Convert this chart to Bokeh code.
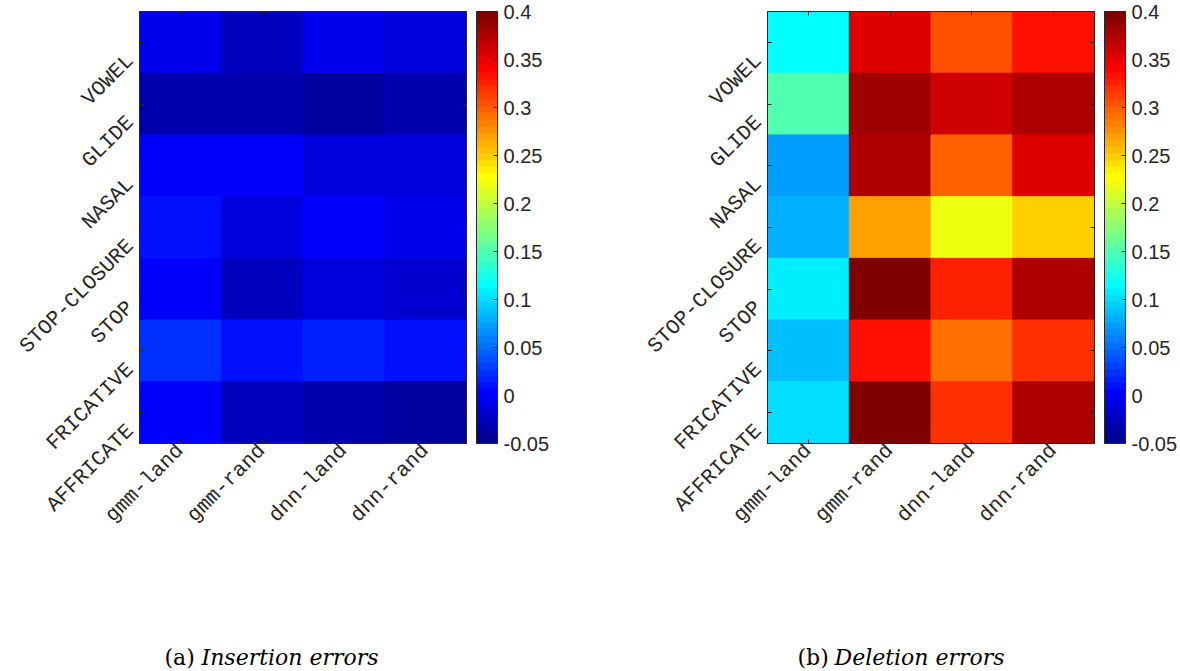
import numpy as np
from math import pi
from bokeh.plotting import figure
from bokeh.models import (ColumnDataSource, LinearColorMapper, ColorBar, FixedTicker,
                          CustomJSTickFormatter, CategoricalAxis, LinearAxis, FactorRange,
                          Range1d, CustomLabelingPolicy)
from bokeh.layouts import row, column
from bokeh.transform import transform
from bokeh.core.properties import value
from bokeh.embed import file_html
from bokeh.resources import INLINE

# ---------------- data ----------------
models = ["gmm-land", "gmm-rand", "dnn-land", "dnn-rand"]
classes = ["VOWEL", "GLIDE", "NASAL", "STOP-CLOSURE", "STOP", "FRICATIVE", "AFFRICATE"]

# insertion error differences (rows follow `classes`)
ins_gmm_land = [-0.006, -0.031, 0.002, 0.009, 0.001, 0.024, 0.001]
ins_gmm_rand = [-0.025, -0.030, 0.004, -0.012, -0.026, 0.011, -0.026]
ins_dnn_land = [-0.004, -0.038, -0.012, 0.002, -0.014, 0.017, -0.029]
ins_dnn_rand = [-0.010, -0.033, -0.013, -0.004, -0.018, 0.012, -0.036]

# deletion error differences
del_gmm_land = [0.115, 0.150, 0.073, 0.080, 0.108, 0.087, 0.101]
del_gmm_rand = [0.354, 0.382, 0.375, 0.270, 0.396, 0.333, 0.396]
del_dnn_land = [0.305, 0.361, 0.298, 0.221, 0.326, 0.291, 0.319]
del_dnn_rand = [0.333, 0.375, 0.354, 0.249, 0.375, 0.319, 0.375]

cbar_low, cbar_high = -0.05, 0.4
cbar_ticks = [-0.05, 0, 0.05, 0.1, 0.15, 0.2, 0.25, 0.3, 0.35, 0.4]

caption_tags = ["(a)", "(b)"]
caption_texts = ["Insertion errors", "Deletion errors"]


def jet(m=64):
    n = int(np.ceil(m / 4))
    u = np.concatenate([np.arange(1, n + 1) / n, np.ones(n - 1), np.arange(n, 0, -1) / n])
    g = int(np.ceil(n / 2)) - (1 if m % 4 == 1 else 0) + np.arange(1, len(u) + 1)
    r = g + n
    b = g - n
    J = np.zeros((m, 3))
    for idx, ch in ((r, 0), (g, 1), (b, 2)):
        mask = (idx >= 1) & (idx <= m)
        J[idx[mask] - 1, ch] = u[mask]
    return ["#%02x%02x%02x" % tuple(int(round(c * 255)) for c in rw) for rw in J]


JET = jet(64)
AX = "#262626"
TXT = "#262626"
FRAME_W, FRAME_H, TOP, MAIN_H, CAP_H = 327, 432, 11, 600, 71
NROW = len(classes)
ROW_POS = [NROW - 1 - i + 0.5 for i in range(NROW)]   # VOWEL on top
LABEL_SHIFT = 0.25  # rows; tick labels sit a bit below their ticks


def no_labels():
    return CustomLabelingPolicy(code="return []")


def heatmap(cols, mapper, left_border):
    xs, ys, vs = [], [], []
    for m, col in zip(models, cols):
        for yp, v in zip(ROW_POS, col):
            xs.append(m)
            ys.append(yp)
            vs.append(v)
    src = ColumnDataSource(dict(x=xs, y=ys, v=vs))

    p = figure(x_range=FactorRange(*models), y_range=Range1d(0, NROW),
               frame_width=FRAME_W, frame_height=FRAME_H,
               min_border_left=left_border, min_border_right=9,
               min_border_top=TOP, min_border_bottom=MAIN_H - TOP - FRAME_H,
               output_backend="svg", toolbar_location=None,
               background_fill_color="white", border_fill_color="white")
    p.rect(x="x", y="y", width=1, height=1, source=src,
           fill_color=transform("v", mapper), line_color=transform("v", mapper))
    p.grid.visible = False
    p.outline_line_color = AX
    p.outline_line_width = 1

    # bottom axis: labels
    xa = p.xaxis[0]
    xa.axis_line_color = AX
    xa.major_tick_line_color = AX
    xa.major_tick_in = 4
    xa.major_tick_out = 0
    xa.major_label_text_font = "Liberation Mono"
    xa.major_label_text_font_size = "21px"
    xa.major_label_text_color = TXT
    xa.major_label_orientation = pi / 4
    xa.major_label_standoff = 4

    # left axis: ticks only
    ya = p.yaxis[0]
    ya.ticker = FixedTicker(ticks=ROW_POS)
    ya.axis_line_color = AX
    ya.major_tick_line_color = AX
    ya.minor_tick_line_color = None
    ya.major_tick_in = 4
    ya.major_tick_out = 0
    ya.major_label_text_font_size = "0px"
    ya.major_label_standoff = 0
    ya.major_label_policy = no_labels()

    # left label axis, slightly shifted down as in the original rendering
    p.extra_y_ranges = {"lab": Range1d(LABEL_SHIFT, NROW + LABEL_SHIFT)}
    la = LinearAxis(y_range_name="lab", ticker=FixedTicker(ticks=ROW_POS),
                    formatter=CustomJSTickFormatter(args=dict(labels=classes[::-1]),
                                                    code="return labels[Math.floor(tick)]"),
                    axis_line_color=None, major_tick_line_color=None, minor_tick_line_color=None,
                    major_tick_in=0, major_tick_out=0,
                    major_label_text_font="Liberation Mono", major_label_text_font_size="21px",
                    major_label_text_color=TXT, major_label_orientation=pi / 4,
                    major_label_standoff=9)
    p.add_layout(la, "left")

    # inward ticks on top and right (boxed axes)
    top = CategoricalAxis(axis_line_color=AX, major_tick_line_color=AX,
                          major_tick_in=4, major_tick_out=0,
                          major_label_text_font_size="0px", major_label_standoff=0,
                          major_label_policy=no_labels())
    p.add_layout(top, "above")
    right = LinearAxis(ticker=FixedTicker(ticks=ROW_POS), axis_line_color=AX,
                       major_tick_line_color=AX, minor_tick_line_color=None,
                       major_tick_in=4, major_tick_out=0,
                       major_label_text_font_size="0px", major_label_standoff=0,
                       major_label_policy=no_labels())
    p.add_layout(right, "right")
    return p


def colorbar_fig(mapper, right_border):
    f = figure(frame_width=1, frame_height=FRAME_H,
               min_border_left=0, min_border_right=right_border, min_border_top=TOP,
               min_border_bottom=MAIN_H - TOP - FRAME_H,
               x_axis_location=None, y_axis_location=None,
               output_backend="svg", toolbar_location=None,
               outline_line_color=None, background_fill_color="white",
               border_fill_color="white")
    f.grid.visible = False
    cb = ColorBar(color_mapper=mapper, ticker=FixedTicker(ticks=cbar_ticks),
                  formatter=CustomJSTickFormatter(code="return String(Math.round(tick*100)/100)"),
                  width=21, height=FRAME_H, padding=0, margin=0, label_standoff=6,
                  major_label_text_font="Liberation Sans", major_label_text_font_size="20px",
                  major_label_text_color=TXT,
                  major_tick_in=4, major_tick_out=0, major_tick_line_color=AX,
                  minor_tick_line_color=None,
                  bar_line_color=AX, bar_line_width=1,
                  border_line_color=None, background_fill_color=None)
    f.add_layout(cb, "right")
    return f


mapper1 = LinearColorMapper(palette=JET, low=cbar_low, high=cbar_high)
mapper2 = LinearColorMapper(palette=JET, low=cbar_low, high=cbar_high)

p1 = heatmap([ins_gmm_land, ins_gmm_rand, ins_dnn_land, ins_dnn_rand], mapper1, 139)
c1 = colorbar_fig(mapper1, 124)
p2 = heatmap([del_gmm_land, del_gmm_rand, del_dnn_land, del_dnn_rand], mapper2, 167)
c2 = colorbar_fig(mapper2, 75)

# caption strip (pixel coordinates)
cap = figure(width=1180, height=CAP_H, x_range=Range1d(0, 1180), y_range=Range1d(0, CAP_H),
             min_border=0, x_axis_location=None, y_axis_location=None,
             output_backend="svg", toolbar_location=None, outline_line_color=None,
             background_fill_color="white", border_fill_color="white")
cap.grid.visible = False
cap.text(x=[164, 797], y=[14, 14], text=caption_tags,
         text_font=value("DejaVu Serif"), text_font_size="22px",
         text_baseline="alphabetic", text_color="black")
cap.text(x=[201, 834], y=[14, 14], text=caption_texts,
         text_font=value("DejaVu Serif"), text_font_size="22px", text_font_style="italic",
         text_baseline="alphabetic", text_color="black")

layout = column(row(p1, c1, p2, c2), cap)
open("out.html", "w").write(file_html(layout, INLINE))
